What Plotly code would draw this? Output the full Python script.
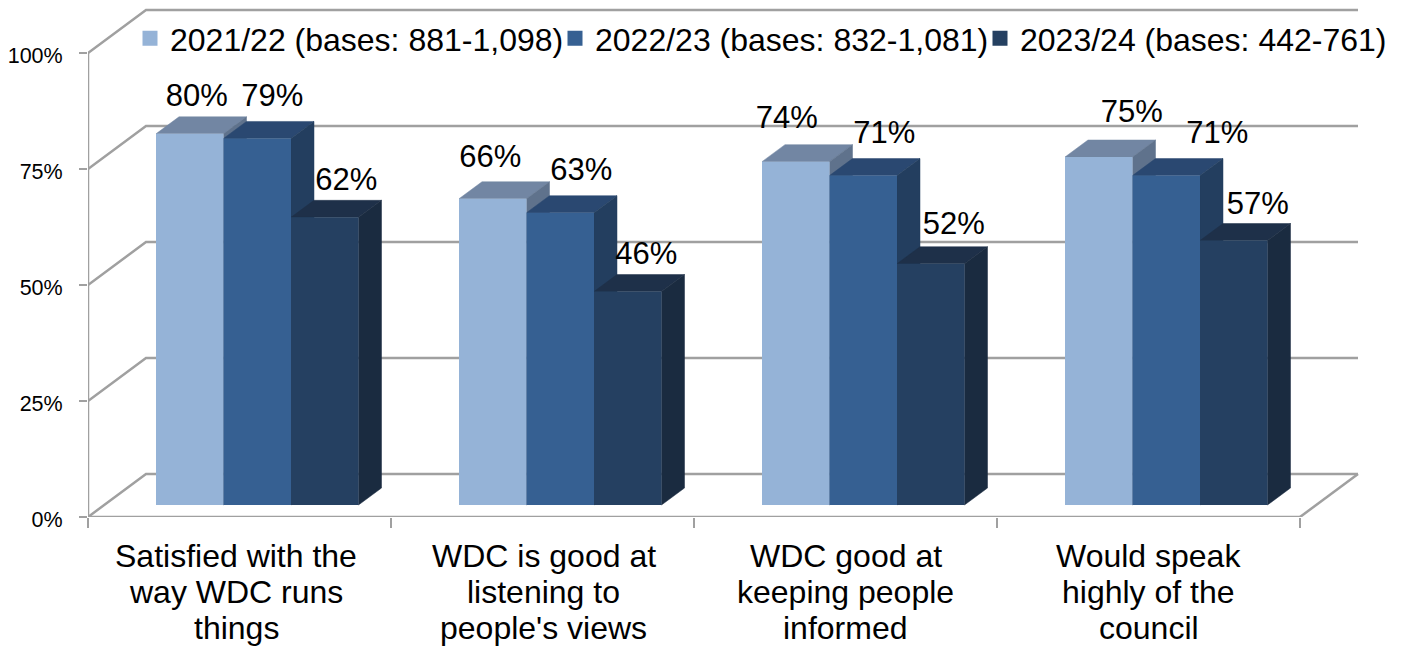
import plotly.graph_objects as go

categories = [
    ["Satisfied with the", "way WDC runs", "things"],
    ["WDC is good at", "listening to", "people's views"],
    ["WDC good at", "keeping people", "informed"],
    ["Would speak", "highly of the", "council"],
]
series_names = [
    "2021/22 (bases: 881-1,098)",
    "2022/23 (bases: 832-1,081)",
    "2023/24 (bases: 442-761)",
]
values_2122 = [80, 66, 74, 75]
values_2223 = [79, 63, 71, 71]
values_2324 = [62, 46, 52, 57]
y_ticks = [0, 25, 50, 75, 100]
y_tick_labels = ["0%", "25%", "50%", "75%", "100%"]

series_values = [values_2122, values_2223, values_2324]
front_colors = ["#95B3D7", "#366092", "#254061"]
top_colors = ["#7286A3", "#2A4871", "#1E3049"]
side_colors = ["#5F728C", "#233E5F", "#1A2B40"]

# Layout geometry (pixels)
W, H = 1407, 646
LEFT, RIGHT, TOP, BASE = 88, 1360, 8, 517
CAT_PX = 303
PCT_PX = 4.64
x_to = lambda px: px / CAT_PX
y_to = lambda px: px / PCT_PX
X_MAX = x_to(RIGHT - LEFT)
Y_MAX = y_to(BASE - TOP)
WALL_DX, WALL_DY = x_to(58), y_to(43)
BAR_DX, BAR_DY = x_to(23), y_to(17)
BAR_W = x_to(67.5)
BAR_START = x_to(68)
BAR_BASE = y_to(12)
GREY = "#A0A0A0"
FONT = "Liberation Sans, Arial, sans-serif"

# Manual nudges of data labels, in pixels, per series and category
label_dx = [[7, -2.5, -9, 33], [15, 21, 21, 51], [21.5, 18.5, 23, 24]]
label_dy = [[19, 23, 24, 26], [23, 23, 23, 23], [18, 18, 20, 17]]
# Manual nudges of category labels, in pixels
cat_dx = [-3.5, 1, 0, 0]

fig = go.Figure()


def poly(xs, ys, color):
    fig.add_trace(go.Scatter(
        x=xs, y=ys, mode="lines", fill="toself", fillcolor=color,
        line=dict(color=color, width=0.5), hoverinfo="skip", showlegend=False,
    ))


def seg(xs, ys, width=2.5):
    fig.add_trace(go.Scatter(
        x=xs, y=ys, mode="lines", line=dict(color=GREY, width=width),
        hoverinfo="skip", showlegend=False,
    ))


# Walls and floor
n = len(categories)
for v in y_ticks:
    seg([0, WALL_DX, n + WALL_DX], [v, v + WALL_DY, v + WALL_DY])
seg([n, n + WALL_DX], [0, WALL_DY])
seg([0, 0], [0, 100])
seg([0, n], [0, 0])

# Bar tops and sides, back to front, left to right
for c in range(n):
    for s, vals in enumerate(series_values):
        x0 = c + BAR_START + s * BAR_W
        x1 = x0 + BAR_W
        top = vals[c] + BAR_BASE
        poly([x0, x1, x1 + BAR_DX, x0 + BAR_DX, x0],
             [top, top, top + BAR_DY, top + BAR_DY, top], top_colors[s])
        poly([x1, x1 + BAR_DX, x1 + BAR_DX, x1, x1],
             [top, top + BAR_DY, BAR_BASE + BAR_DY, BAR_BASE, top], side_colors[s])

# Bar fronts on an overlay subplot so they cover the sides
for s, vals in enumerate(series_values):
    fig.add_trace(go.Bar(
        x=[c + BAR_START + (s + 0.5) * BAR_W for c in range(n)],
        y=vals, base=BAR_BASE, width=BAR_W,
        marker=dict(color=front_colors[s], line=dict(width=0)),
        xaxis="x2", yaxis="y2", hoverinfo="skip", showlegend=False,
    ))

# Legend entries (a thick outline gives the larger swatch)
for s, name in enumerate(series_names):
    fig.add_trace(go.Bar(
        name=name, x=[None], y=[None],
        marker=dict(color=front_colors[s], line=dict(color=front_colors[s], width=3)),
        xaxis="x2", yaxis="y2", hoverinfo="skip", showlegend=True,
    ))

# Data labels
for s, vals in enumerate(series_values):
    fig.add_trace(go.Scatter(
        x=[c + BAR_START + (s + 0.5) * BAR_W + x_to(label_dx[s][c]) for c in range(n)],
        y=[vals[c] + BAR_BASE + BAR_DY + y_to(label_dy[s][c]) for c in range(n)],
        text=[f"{v}%" for v in vals], mode="text", textposition="middle center",
        textfont=dict(family=FONT, size=31, color="#000000"),
        xaxis="x2", yaxis="y2", hoverinfo="skip", showlegend=False,
    ))

annotations = []
for c, lines in enumerate(categories):
    for i, line in enumerate(lines):
        annotations.append(dict(
            x=c + 0.5 + x_to(cat_dx[c]), y=0, xref="x", yref="y", text=line, showarrow=False,
            xanchor="center", yanchor="middle", yshift=-(39 + 36 * i),
            font=dict(family=FONT, size=32, color="#000000"),
        ))

axis_common = dict(showgrid=False, zeroline=False, showline=False)
x_domain = [LEFT / W, RIGHT / W]
y_domain = [1 - BASE / H, 1 - TOP / H]
fig.update_layout(
    width=W, height=H, autosize=False,
    margin=dict(l=0, r=0, t=0, b=0, pad=0, autoexpand=False),
    paper_bgcolor="white", plot_bgcolor="white",
    barmode="overlay",
    showlegend=True,
    font=dict(family=FONT, color="#000000"),
    legend=dict(
        orientation="h", x=130 / W, xanchor="left",
        y=1 - 11 / H, yanchor="top",
        font=dict(family=FONT, size=32), bgcolor="rgba(0,0,0,0)",
        itemwidth=30, traceorder="normal",
        entrywidth=380, entrywidthmode="pixels",
    ),
    annotations=annotations,
    xaxis=dict(domain=x_domain, range=[0, X_MAX], showticklabels=False, ticks="", fixedrange=True,
               minor=dict(tickvals=list(range(n + 1)), ticks="outside", ticklen=10,
                          tickcolor=GREY, tickwidth=2),
               **axis_common),
    yaxis=dict(domain=y_domain, range=[0, Y_MAX], tickvals=y_ticks, ticktext=y_tick_labels,
               ticks="outside", ticklen=8, tickcolor=GREY, tickwidth=2, fixedrange=True,
               ticklabelstandoff=12, ticklabelshift=2,
               tickfont=dict(family=FONT, size=21.5, color="#000000"),
               **axis_common),
    xaxis2=dict(domain=x_domain, range=[0, X_MAX], overlaying="x", visible=False, fixedrange=True),
    yaxis2=dict(domain=y_domain, range=[0, Y_MAX], overlaying="y", visible=False, fixedrange=True),
)

fig.write_html("out.html", config={"displayModeBar": False},
               post_script="document.body.style.margin='0';")
